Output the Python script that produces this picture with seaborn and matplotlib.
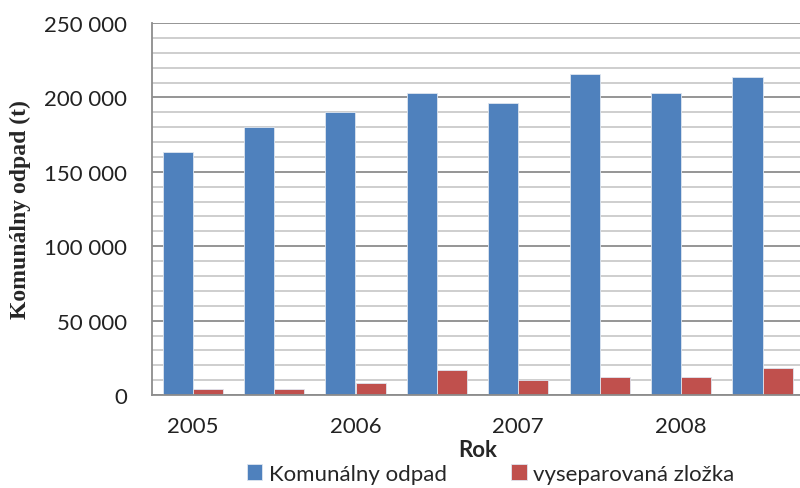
import pandas as pd
import matplotlib.pyplot as plt
import seaborn as sns
from matplotlib.ticker import MultipleLocator, FuncFormatter

periods = ["2005", "2005b", "2006", "2006b", "2007", "2007b", "2008", "2008b"]
tick_labels = ["2005", "", "2006", "", "2007", "", "2008", ""]
series = ["Komunálny odpad", "vyseparovaná zložka"]
komunalny = [163000, 180000, 190000, 203000, 196000, 216000, 203000, 214000]
vyseparovana = [4000, 4000, 8000, 17000, 10000, 12000, 12000, 18000]

df = pd.DataFrame({
    "period": periods * 2,
    "series": [series[0]] * len(periods) + [series[1]] * len(periods),
    "value": komunalny + vyseparovana,
})

sns.set_style("white")
plt.rcParams['font.family'] = ['Lato', 'DejaVu Sans']

fig = plt.figure(figsize=(8, 4.89), dpi=100)
ax = fig.add_axes([0.19, 0.19, 0.814, 0.761])

sns.barplot(data=df, x="period", y="value", hue="series",
            palette=["#4F81BD", "#C0504D"], saturation=1, width=0.74,
            edgecolor="#dfe6f0", linewidth=0.6, ax=ax)

ax.set_xlim(-0.5, 7.5)
ax.set_ylim(0, 250000)
ax.yaxis.set_major_locator(MultipleLocator(50000))
ax.yaxis.set_minor_locator(MultipleLocator(10000))
ax.yaxis.set_major_formatter(FuncFormatter(lambda v, p: f"{int(v):,}".replace(",", " ")))
ax.grid(which='major', axis='y', color='#8c8c8c', lw=1.3)
ax.grid(which='minor', axis='y', color='#cacaca', lw=1.3)
ax.set_axisbelow(True)

ax.set_xticks(range(len(periods)))
ax.set_xticklabels(tick_labels)
ax.tick_params(axis='x', length=0, pad=15, labelsize=16, labelcolor='#222222')
ax.tick_params(axis='y', which='major', length=6, color='#8c8c8c', width=1.3,
               labelsize=16, labelcolor='#222222', pad=12)
ax.tick_params(axis='y', which='minor', length=0)

for s in ['top', 'right']:
    ax.spines[s].set_visible(False)
for s in ['left', 'bottom']:
    ax.spines[s].set_color('#8c8c8c')
    ax.spines[s].set_linewidth(1.3)

ax.set_xlabel("Rok", fontsize=16, fontweight='bold', labelpad=2)
ax.set_ylabel("Komunálny odpad (t)", fontsize=17, fontweight='bold',
              family=['Liberation Serif'], labelpad=9)

sns.move_legend(ax, "center", bbox_to_anchor=(0.52, -0.212), ncol=2,
                frameon=False, title=None, fontsize=16,
                handlelength=0.7, handleheight=0.7, handletextpad=0.3,
                columnspacing=2.9)

fig.savefig("out.png", dpi=100)
